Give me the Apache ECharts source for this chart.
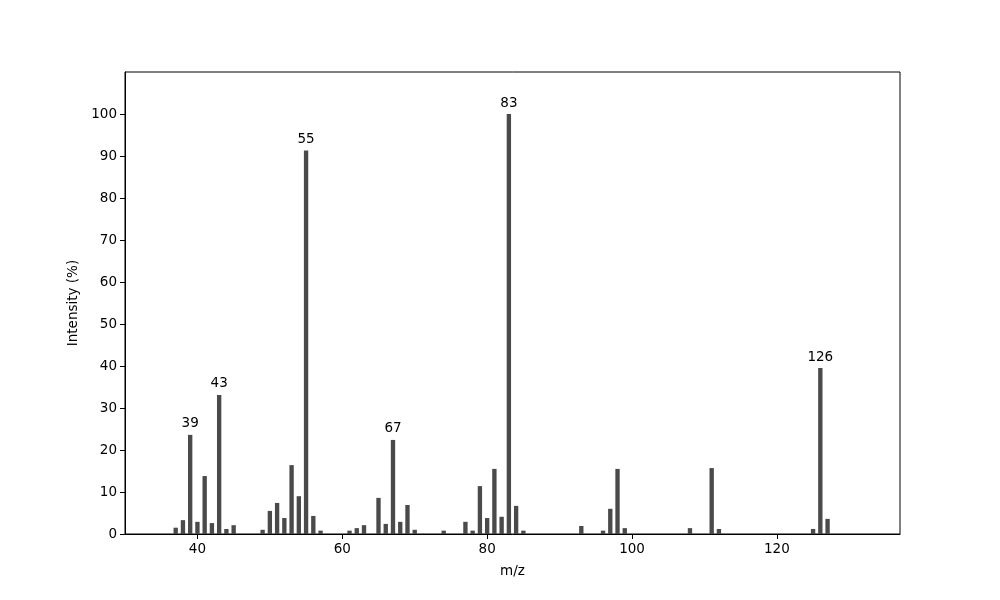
<!DOCTYPE html>
<html>
<head>
<meta charset="utf-8">
<script src="https://cdn.jsdelivr.net/npm/echarts@6/dist/echarts.min.js"></script>
<style>html,body{margin:0;padding:0;background:#fff}#c{width:1000px;height:600px}</style>
</head>
<body>
<div id="c"></div>
<script>
var mz = [37,38,39,40,41,42,43,44,45,49,50,51,52,53,54,55,56,57,61,62,63,65,66,67,68,69,70,74,77,78,79,80,81,82,83,84,85,93,96,97,98,99,108,111,112,125,126,127];
var intensity = [1.5,3.3,23.6,2.9,13.8,2.6,33.1,1.2,2.1,1.0,5.5,7.4,3.8,16.4,9.0,91.3,4.3,0.8,0.8,1.4,2.1,8.6,2.4,22.4,2.9,6.9,1.0,0.8,2.9,0.8,11.4,3.8,15.5,4.1,100,6.7,0.8,1.9,0.8,6.0,15.5,1.4,1.4,15.7,1.2,1.2,39.5,3.6];
var labeledPeaks = [39,43,55,67,83,126];
var xTicks = [40,60,80,100,120];
var yTicks = [0,10,20,30,40,50,60,70,80,90,100];

var data = mz.map(function(m,i){ return [m, intensity[i]]; });
var font = 'DejaVu Sans';
var chart = echarts.init(document.getElementById('c'));
chart.setOption({
  animation: false,
  grid: {left:125, right:100, top:72, bottom:66, show:true, borderColor:'#000', borderWidth:1, backgroundColor:'transparent'},
  xAxis: {
    type:'value', min:30, max:137,
    name:'m/z', nameLocation:'middle', nameGap:30,
    nameTextStyle:{color:'#000', fontFamily:font, fontSize:13.5},
    axisLine:{show:true, onZero:false, lineStyle:{color:'#000'}},
    axisTick:{show:true, length:5, customValues:xTicks, lineStyle:{color:'#000'}},
    axisLabel:{customValues:xTicks, color:'#000', fontFamily:font, fontSize:13.5, margin:8},
    splitLine:{show:false}
  },
  yAxis: {
    type:'value', min:0, max:110,
    name:'Intensity (%)', nameLocation:'middle', nameGap:45,
    nameTextStyle:{color:'#000', fontFamily:font, fontSize:13.5},
    axisLine:{show:true, lineStyle:{color:'#000'}},
    axisTick:{show:true, length:5, customValues:yTicks, lineStyle:{color:'#000'}},
    axisLabel:{customValues:yTicks, color:'#000', fontFamily:font, fontSize:13.5, margin:8},
    splitLine:{show:false}
  },
  series: [{
    type:'custom',
    data: data,
    clip: true,
    renderItem: function(params, api){
      var x = api.value(0), y = api.value(1);
      var top = api.coord([x, y]);
      var base = api.coord([x, 0]);
      var w = api.size([0.6, 0])[0];
      var children = [{
        type:'rect',
        shape:{x: top[0]-w/2, y: top[1], width: w, height: base[1]-top[1]},
        style:{fill:'#4a4a4a'}
      }];
      if (labeledPeaks.indexOf(x) >= 0) {
        children.push({
          type:'text',
          style:{text:String(x), x: top[0], y: top[1]-4, align:'center', verticalAlign:'bottom', fill:'#000', font:'13.5px "DejaVu Sans"'}
        });
      }
      return {type:'group', children: children};
    }
  }]
});
</script>
</body>
</html>
